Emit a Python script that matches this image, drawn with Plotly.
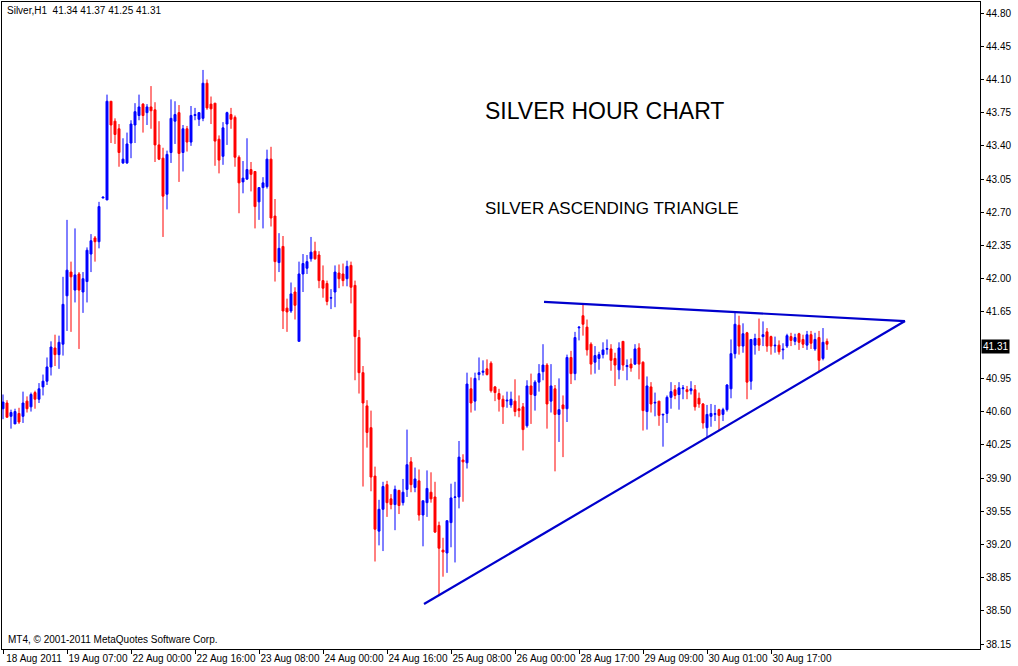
import plotly.graph_objects as go

# ---------------- data (Silver H1) ----------------
opens = [40.63, 40.69, 40.55, 40.47, 40.58, 40.55, 40.71, 40.65, 40.80, 40.73,
         40.86, 40.92, 41.07, 41.27, 41.20, 41.31, 41.82, 42.07, 41.88, 42.05,
         41.86, 41.97, 42.26, 42.43, 42.39, 42.85, 42.83, 43.87, 43.66, 43.58,
         43.22, 43.22, 43.43, 43.62, 43.72, 43.84, 43.75, 43.81, 43.78, 43.41,
         43.27, 42.89, 43.33, 43.66, 43.75, 43.33, 43.58, 43.44, 43.72, 43.68,
         43.69, 44.06, 43.84, 43.85, 43.47, 43.29, 43.63, 43.73, 43.70, 43.28,
         43.02, 43.05, 43.15, 43.13, 42.81, 42.96, 42.97, 43.26, 42.66, 42.17,
         42.34, 41.69, 41.66, 41.86, 41.34, 42.05, 42.11, 42.21, 42.29, 42.25,
         41.98, 41.95, 41.795, 41.86, 42.06, 42.05, 42.00, 42.14, 41.93, 41.38,
         41.01, 40.66, 40.43, 39.92, 39.34, 39.57, 39.83, 39.68, 39.62, 39.77,
         39.64, 39.78, 40.07, 39.80, 39.87, 39.51, 39.64, 39.75, 39.70, 39.40,
         39.14, 39.11, 39.43, 39.695, 39.70, 40.09, 40.06, 40.84, 40.71, 40.99,
         41.014, 41.05, 41.11, 40.86, 40.79, 40.73, 40.712, 40.67, 40.71, 40.63,
         40.65, 40.45, 40.87, 40.77, 40.91, 41.02, 41.09, 40.71, 40.84, 40.57,
         40.67, 40.63, 41.17, 41.00, 41.482, 41.61, 41.49, 41.31, 41.12, 41.16,
         41.20, 41.257, 41.26, 41.16, 41.04, 41.34, 41.074, 41.10, 41.10, 41.27,
         41.12, 40.60, 40.86, 40.69, 40.71, 40.564, 40.58, 40.75, 40.83, 40.78,
         40.841, 40.83, 40.82, 40.83, 40.74, 40.68, 40.43, 40.55, 40.571, 40.62,
         40.57, 40.62, 40.84, 41.21, 41.51, 41.29, 41.43, 40.92, 41.30, 41.37,
         41.39, 41.44, 41.39, 41.292, 41.30, 41.250, 41.29, 41.39, 41.34, 41.42,
         41.36, 41.30, 41.41, 41.26, 41.38, 41.16, 41.34]

highs = [40.78, 40.72, 40.62, 40.63, 40.64, 40.81, 40.76, 40.80, 40.82, 40.90,
         40.99, 41.17, 41.34, 41.41, 41.40, 42.02, 42.62, 42.18, 42.53, 42.07,
         42.07, 42.33, 42.47, 42.45, 42.81, 42.86, 43.94, 43.87, 43.69, 43.63,
         43.48, 43.54, 43.67, 43.85, 43.94, 43.85, 43.84, 44.03, 43.86, 43.66,
         43.38, 43.35, 43.89, 43.87, 43.83, 43.62, 43.61, 43.82, 43.80, 43.75,
         44.20, 44.10, 43.92, 43.85, 43.51, 43.65, 43.76, 43.80, 43.72, 43.30,
         43.24, 43.48, 43.23, 43.13, 42.96, 43.07, 43.36, 43.39, 42.84, 42.48,
         42.45, 41.79, 41.96, 41.91, 42.18, 42.26, 42.25, 42.44, 42.39, 42.29,
         42.14, 41.98, 41.89, 42.14, 42.15, 42.16, 42.19, 42.18, 41.98, 41.46,
         41.08, 40.72, 40.61, 40.02, 39.67, 39.86, 39.87, 39.73, 39.82, 39.77,
         39.89, 40.41, 40.12, 40.01, 39.99, 39.66, 39.98, 39.96, 39.86, 39.44,
         39.27, 39.45, 39.84, 39.86, 40.29, 40.15, 41.01, 40.96, 41.01, 41.17,
         41.14, 41.15, 41.13, 40.87, 40.84, 40.77, 40.81, 40.81, 40.94, 40.77,
         40.69, 40.93, 41.00, 40.93, 41.10, 41.31, 41.11, 41.10, 40.88, 40.95,
         40.77, 41.20, 41.24, 41.44, 41.50, 41.74, 41.57, 41.33, 41.29, 41.23,
         41.33, 41.36, 41.31, 41.22, 41.33, 41.34, 41.15, 41.16, 41.31, 41.32,
         41.13, 40.97, 40.91, 40.80, 40.71, 40.575, 40.77, 40.91, 40.88, 40.91,
         40.88, 40.87, 40.92, 40.88, 40.80, 40.69, 40.67, 40.68, 40.67, 40.63,
         40.64, 40.89, 41.36, 41.64, 41.61, 41.53, 41.44, 41.36, 41.42, 41.58,
         41.55, 41.48, 41.40, 41.39, 41.35, 41.32, 41.42, 41.43, 41.42, 41.43,
         41.41, 41.45, 41.45, 41.43, 41.45, 41.48, 41.37]

lows = [40.52, 40.54, 40.42, 40.47, 40.47, 40.48, 40.59, 40.60, 40.63, 40.69,
        40.77, 40.88, 40.98, 41.08, 41.05, 41.19, 41.45, 41.44, 41.75, 41.26,
        41.64, 41.75, 42.07, 42.18, 42.32, 42.85, 42.83, 43.43, 43.42, 43.18,
        43.21, 43.21, 43.27, 43.43, 43.67, 43.54, 43.62, 43.58, 43.23, 43.25,
        42.44, 42.73, 43.22, 43.42, 43.02, 43.13, 43.34, 43.40, 43.67, 43.61,
        43.66, 43.78, 43.63, 43.19, 43.11, 43.20, 43.41, 43.58, 43.18, 42.69,
        42.90, 43.04, 42.92, 42.53, 42.62, 42.53, 42.95, 42.55, 41.97, 42.07,
        41.47, 41.44, 41.64, 41.57, 41.34, 41.86, 42.05, 42.18, 42.20, 41.90,
        41.80, 41.72, 41.68, 41.70, 41.90, 41.92, 41.92, 41.74, 40.93, 40.79,
        39.81, 40.22, 39.76, 39.02, 39.19, 39.13, 39.49, 39.57, 39.35, 39.52,
        39.61, 39.70, 39.75, 39.75, 39.45, 39.18, 39.49, 39.64, 39.32, 38.66,
        38.86, 38.90, 39.17, 39.01, 39.58, 39.65, 40.00, 40.59, 40.61, 40.93,
        40.98, 40.98, 40.80, 40.71, 40.60, 40.47, 40.64, 40.64, 40.55, 40.54,
        40.19, 40.43, 40.47, 40.61, 40.81, 40.93, 40.42, 40.59, 39.97, 40.28,
        40.12, 40.49, 40.89, 40.93, 41.35, 41.40, 41.19, 40.99, 41.00, 41.04,
        41.16, 41.20, 41.03, 40.87, 40.94, 41.03, 40.93, 41.02, 41.09, 40.94,
        40.40, 40.41, 40.59, 40.55, 40.45, 40.23, 40.48, 40.63, 40.73, 40.62,
        40.73, 40.73, 40.78, 40.61, 40.64, 40.42, 40.33, 40.44, 40.50, 40.40,
        40.50, 40.60, 40.74, 41.16, 41.20, 41.22, 40.73, 40.83, 41.20, 41.24,
        41.29, 41.23, 41.20, 41.22, 41.20, 41.15, 41.27, 41.29, 41.30, 41.25,
        41.27, 41.25, 41.26, 41.24, 41.02, 41.14, 41.25]

closes = [40.70, 40.54, 40.59, 40.60, 40.49, 40.69, 40.63, 40.78, 40.73, 40.84,
          40.92, 41.07, 41.28, 41.20, 41.33, 41.73, 42.09, 42.02, 42.04, 41.88,
          42.00, 42.30, 42.40, 42.39, 42.76, 42.86, 43.87, 43.62, 43.52, 43.33,
          43.26, 43.42, 43.63, 43.76, 43.81, 43.72, 43.81, 43.77, 43.41, 43.26,
          42.87, 43.31, 43.69, 43.73, 43.32, 43.58, 43.44, 43.72, 43.73, 43.75,
          44.06, 43.80, 43.79, 43.45, 43.25, 43.59, 43.75, 43.68, 43.28, 43.01,
          43.06, 43.15, 43.10, 42.76, 42.96, 43.01, 43.26, 42.64, 42.18, 42.32,
          41.66, 41.65, 41.84, 41.72, 42.05, 42.16, 42.18, 42.28, 42.21, 41.98,
          41.90, 41.76, 41.80, 42.07, 42.00, 41.98, 42.13, 41.91, 41.39, 41.01,
          40.69, 40.38, 39.91, 39.36, 39.57, 39.81, 39.64, 39.62, 39.78, 39.61,
          39.75, 40.04, 39.83, 39.89, 39.51, 39.66, 39.79, 39.68, 39.33, 39.16,
          39.12, 39.45, 39.69, 39.70, 40.12, 40.07, 40.89, 40.69, 40.95, 41.01,
          41.025, 40.99, 40.82, 40.80, 40.73, 40.65, 40.719, 40.73, 40.60, 40.61,
          40.41, 40.87, 40.78, 40.91, 41.00, 41.09, 40.68, 40.87, 40.57, 40.62,
          40.63, 41.17, 41.00, 41.38, 41.489, 41.52, 41.25, 41.10, 41.19, 41.20,
          41.25, 41.264, 41.14, 41.09, 41.27, 41.09, 41.085, 41.06, 41.26, 41.10,
          40.61, 40.87, 40.68, 40.697, 40.56, 40.571, 40.75, 40.81, 40.77, 40.85,
          40.849, 40.81, 40.84, 40.65, 40.68, 40.48, 40.57, 40.58, 40.578, 40.56,
          40.62, 40.88, 41.21, 41.52, 41.29, 41.42, 40.91, 41.36, 41.37, 41.30,
          41.41, 41.29, 41.29, 41.299, 41.23, 41.257, 41.40, 41.35, 41.38, 41.33,
          41.31, 41.41, 41.32, 41.36, 41.14, 41.33, 41.31]

bar_index = list(range(len(closes)))

time_tick_bars = [0, 16, 32, 48, 64, 80, 96, 112, 128, 144, 160, 176, 192]
time_tick_labels = ["18 Aug 2011", "19 Aug 07:00", "22 Aug 00:00", "22 Aug 16:00",
                    "23 Aug 08:00", "24 Aug 00:00", "24 Aug 16:00", "25 Aug 08:00",
                    "26 Aug 00:00", "28 Aug 17:00", "29 Aug 09:00", "30 Aug 01:00",
                    "30 Aug 17:00"]

price_ticks = [44.80, 44.45, 44.10, 43.75, 43.40, 43.05, 42.70, 42.35, 42.00, 41.65,
               40.95, 40.60, 40.25, 39.90, 39.55, 39.20, 38.85, 38.50, 38.15]
price_tick_labels = ["%.2f" % v for v in price_ticks]

# triangle trend lines (bar index, price)
upper_line_x = [135.25, 225.5]
upper_line_y = [41.755, 41.554]
lower_line_x = [105.25, 225.5]
lower_line_y = [38.572, 41.554]

header_text = "Silver,H1  41.34 41.37 41.25 41.31"
last_price = 41.31

# ---------------- figure ----------------
FONT = "Liberation Sans, Arial, sans-serif"

fig = go.Figure()
fig.add_trace(go.Candlestick(
    x=bar_index, open=opens, high=highs, low=lows, close=closes,
    increasing=dict(line=dict(color="#0000FF", width=1), fillcolor="#0000FF"),
    decreasing=dict(line=dict(color="#FF0000", width=1), fillcolor="#FF0000"),
    whiskerwidth=0, showlegend=False, name="Silver"))

for lx, ly in ((upper_line_x, upper_line_y), (lower_line_x, lower_line_y)):
    fig.add_trace(go.Scatter(x=lx, y=ly, mode="lines",
                             line=dict(color="#0000CD", width=2.2),
                             showlegend=False, hoverinfo="skip"))

fig.update_layout(
    template="none",
    width=1018, height=666,
    margin=dict(l=2, r=38, t=2, b=17, pad=0),
    paper_bgcolor="white", plot_bgcolor="white",
    font=dict(family=FONT, size=10, color="black"),
    showlegend=False,
    xaxis=dict(range=[-0.25, 244.25], showgrid=False, zeroline=False,
               showline=True, mirror=True, linecolor="black", linewidth=1,
               ticks="outside", ticklen=4, tickcolor="black", tickwidth=1,
               tickvals=time_tick_bars, ticktext=time_tick_labels,
               tickfont=dict(family=FONT, size=10, color="black"),
               ticklabelshift=31, ticklabelstandoff=-4, automargin=False,
               rangeslider=dict(visible=False), fixedrange=True),
    yaxis=dict(side="right", range=[38.098, 44.916], showgrid=False, zeroline=False,
               showline=True, mirror=True, linecolor="black", linewidth=1,
               ticks="outside", ticklen=3, tickcolor="black", tickwidth=1,
               tickvals=price_ticks, ticktext=price_tick_labels,
               tickfont=dict(family=FONT, size=10, color="black"),
               automargin=False, fixedrange=True),
)

fig.add_annotation(text=header_text, xref="paper", yref="paper", x=0, y=1,
                   xanchor="left", yanchor="top", xshift=3, yshift=-1,
                   showarrow=False, font=dict(family=FONT, size=10, color="black"))
fig.add_annotation(text="MT4, \u00a9 2001-2011 MetaQuotes Software Corp.",
                   xref="paper", yref="paper", x=0, y=0,
                   xanchor="left", yanchor="bottom", xshift=4, yshift=2,
                   showarrow=False, font=dict(family=FONT, size=10, color="black"))
fig.add_annotation(text="SILVER HOUR CHART", xref="x", yref="y", x=120, y=43.767,
                   xanchor="left", yanchor="middle", showarrow=False,
                   font=dict(family=FONT, size=23, color="black"))
fig.add_annotation(text="SILVER ASCENDING TRIANGLE", xref="x", yref="y", x=120, y=42.745,
                   xanchor="left", yanchor="middle", showarrow=False,
                   font=dict(family=FONT, size=17, color="black"))
fig.add_annotation(text="%.2f" % last_price, xref="paper", yref="y", x=1, y=last_price,
                   xanchor="left", yanchor="middle", xshift=1, yshift=-2,
                   showarrow=False, bgcolor="black", borderpad=1,
                   font=dict(family=FONT, size=10, color="white"))

fig.write_html("out.html", config={"displayModeBar": False},
               post_script="document.body.style.margin='0';document.body.style.padding='0';")
